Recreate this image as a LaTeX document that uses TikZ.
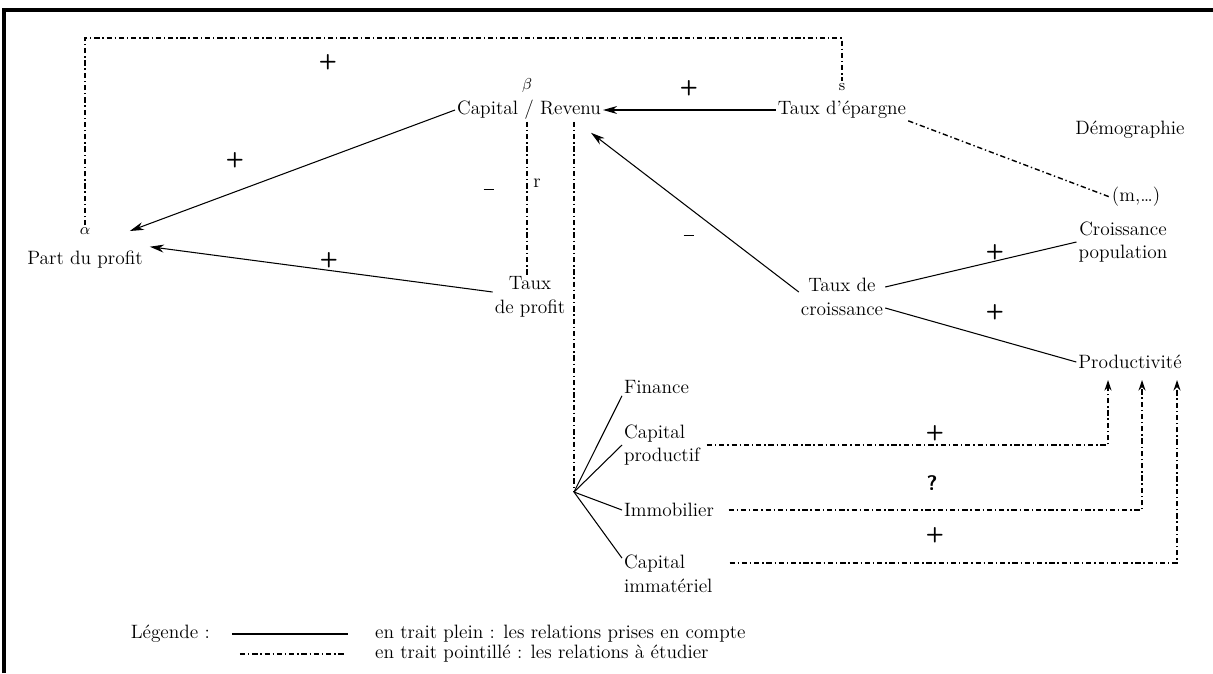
\documentclass[tikz,border=0pt]{standalone}
\usepackage{amsmath,amssymb}
\usepackage{tikz}
\usetikzlibrary{arrows.meta}

\tikzset{
  lbl/.style={inner sep=1pt, align=center, font=\fontsize{11}{13.5}\selectfont},
  petit/.style={lbl, font=\fontsize{9}{10}\selectfont},
  sgn/.style={inner sep=0pt, font=\sffamily\bfseries\fontsize{12}{12}\selectfont},
  rel/.style={line width=0.6pt},
  relarr/.style={rel, -{Stealth[length=8pt,width=4.5pt,inset=2.5pt]}},
  ddot/.style={line width=0.8pt, dash pattern=on 3pt off 1.6pt on 0.8pt off 1.6pt},
  ddarr/.style={ddot, -{Stealth[length=6pt,width=4pt,inset=2pt]}},
}
\newcommand{\moinssigne}{\rule[0.3ex]{6pt}{0.7pt}}

\begin{document}
\begin{tikzpicture}[x=0.02cm,y=-0.02cm]
\useasboundingbox (0,0) rectangle (1213,673);

% cadre
\draw[line width=1.8pt] (4,673) -- (4,10) -- (1213,10);

% variables
\node[petit] (beta) at (527,86) {$\beta$};
\node[lbl] (capital) at (529,110) {Capital / Revenu};
\node[petit] (s) at (842,87) {s};
\node[lbl] (epargne) at (842,110) {Taux d’épargne};
\node[lbl] (demo) at (1130,130) {Démographie};
\node[lbl] (m) at (1136,197) {(m,\ldots)};
\node[petit] (alpha) at (85,231) {$\alpha$};
\node[lbl] (part) at (85,260) {Part du profit};
\node[lbl] (r) at (537,183) {r};
\node[lbl] (profit) at (530,297) {Taux\\de profit};
\node[lbl] (croiss) at (842,297) {Taux de\\croissance};
\node[lbl] (pop) at (1123,242) {Croissance\\population};
\node[lbl] (prod) at (1130,362) {Productivité};
\node[lbl,anchor=west,align=left] (fin) at (622,387) {Finance};
\node[lbl,anchor=west,align=left] (cprod) at (622,445) {Capital\\productif};
\node[lbl,anchor=west,align=left] (immo) at (622,510) {Immobilier};
\node[lbl,anchor=west,align=left] (cimm) at (622,574) {Capital\\immatériel};

% signes
\node[sgn] (s1) at (328,62) {+};
\node[sgn] (s2) at (689,88) {+};
\node[sgn] (s3) at (235,160) {+};
\node[sgn] (s4) at (329,260) {+};
\node[sgn] (s5) at (995,252) {+};
\node[sgn] (s6) at (995,312) {+};
\node[sgn] (s7) at (935,433) {+};
\node[sgn] (q) at (932,483) {?};
\node[sgn] (s8) at (935,535) {+};
\node[lbl] (n1) at (489,191) {\moinssigne};
\node[lbl] (n2) at (689,237) {\moinssigne};

% relations prises en compte
\draw[relarr] (epargne.west) -- (capital.east);
\draw[relarr] (capital.west) -- ([xshift=0.75cm]alpha.east);
\draw[relarr] ([yshift=0.1cm]profit.west) -- ([xshift=0.1cm,yshift=0.05cm]part.north east);
\draw[relarr] ([yshift=0.1cm]croiss.west) -- ([xshift=-0.24cm,yshift=-0.22cm]capital.south east);
\draw[rel] ([yshift=0.2cm]croiss.east) -- (pop.west);
\draw[rel] ([yshift=-0.22cm]croiss.east) -- (prod.west);

% relations a etudier
\coordinate (haut) at (0,38);
\draw[ddot] (alpha.north) -- (alpha.north |- haut) -- (s.north |- haut) -- (s.north);
\draw[ddot] (epargne.south east) -- (m.west);
\draw[ddot] (beta |- capital.south) -- (beta |- profit.north);
\coordinate (branch) at (574,492);
\draw[ddot] (capital.south -| branch) -- (branch);
\draw[rel] (branch) -- (fin.south west);
\draw[rel] (branch) -- (cprod.west);
\draw[rel] (branch) -- (immo.west);
\draw[rel] (branch) -- ([yshift=-0.1cm]cimm.north west);

\coordinate (p1) at (1108,380);
\coordinate (p2) at (1142,380);
\coordinate (p3) at (1177,380);
\draw[ddarr] ([xshift=0.1cm]cprod.east) -| (p1);
\draw[ddarr] ([xshift=0.25cm]immo.east) -| (p2);
\draw[ddarr] ([xshift=0.3cm,yshift=0.22cm]cimm.east) -| (p3);

% legende
\node[lbl,anchor=east] (leg) at (212,634) {Légende :};
\node[lbl,anchor=west] (leg1) at (373,634) {en trait plein : les relations prises en compte};
\node[lbl,anchor=west] (leg2) at (373,654) {en trait pointillé : les relations à étudier};
\draw[rel] ([xshift=0.4cm]leg.east) -- ([xshift=-0.5cm]leg1.west);
\draw[ddot] ([xshift=0.56cm]leg.east |- leg2.west) -- ([xshift=-0.58cm]leg2.west);
\end{tikzpicture}
\end{document}
